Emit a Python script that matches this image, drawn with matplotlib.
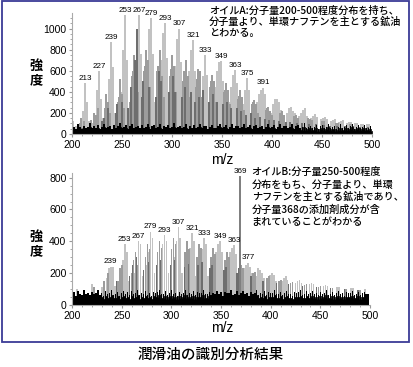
import numpy as np
import matplotlib
matplotlib.use("Agg")
import matplotlib.pyplot as plt
from matplotlib.patches import Rectangle

plt.rcParams['font.family'] = ['Liberation Sans', 'Noto Sans CJK JP']
jp = ['Noto Sans CJK JP', 'DejaVu Sans']

# ---- oil A (top) ----
a_light_mz = [200,201,204,207,210,211,213,214,215,217,221,223,225,227,228,229,231,235,237,239,240,241,243,245,249,251,253,254,255,257,
              261,263,265,267,268,269,271,275,277,279,280,281,283,287,289,291,293,294,295,297,301,303,305,307,308,309,311,315,317,319,
              321,322,323,325,329,331,333,334,335,337,341,343,345,347,349,350,351,353,357,359,361,363,364,365,367,371,373,375,376,377,
              379,383,385,387,389,391,392,393,395,399,401,403,405,407,409,411,415,417,419,421,423,427,429,431,433,435,439,441,443,445,
              449,451,453,455,459,461,463,467,469,471,475,477,479,483,485,489,491,495,497]
a_light_h = [330,120,80,90,150,220,480,160,300,120,100,180,420,600,200,330,150,200,520,870,300,640,200,150,400,800,1130,380,700,250,
             300,600,980,1130,420,760,300,550,1000,1100,400,760,300,400,700,960,1050,380,720,300,450,650,900,1000,350,680,250,400,600,800,
             890,300,600,250,350,550,750,280,560,220,330,450,600,680,690,250,500,200,300,450,560,610,230,480,200,280,420,530,200,420,
             180,230,300,380,420,440,180,380,160,200,280,330,330,300,230,160,200,250,260,220,200,170,200,230,250,170,150,170,190,160,
             140,150,160,140,120,130,140,110,120,130,100,110,110,100,100,90,95,90,90]
a_mid_mz = [208,209,212,219,222,224,226,233,234,236,238,246,247,248,250,252,258,260,261,262,264,266,272,273,274,276,278,285,286,288,
            290,292,298,299,300,302,304,311,312,314,316,318,324,325,326,328,330,338,339,340,342,344,352,353,354,356,358,366,367,368,
            370,372,380,381,382,384,386,394,395,396,398,400,408,410,412,422,424,426,436,438,440,450,452,464,466,478,480,492]
a_mid_h = [100,150,120,130,200,180,250,250,380,300,200,300,350,520,380,250,300,550,600,750,700,400,600,650,800,700,450,600,650,800,
           550,350,550,620,750,650,400,500,600,700,550,350,450,520,620,600,350,450,500,560,500,300,400,420,480,420,280,330,360,420,
           350,230,280,300,320,280,200,230,250,260,220,180,200,220,180,170,180,150,150,140,130,120,120,100,100,90,90,80]
a_dark_mz = [210,218,230,232,236,244,245,250,256,259,263,265,270,271,277,284,287,289,297,301,303,310,313,319,323,327,331,337,341,345,
             351,355,359,365,369,374,379,383,388,393,397,402,407,414,418,425,430,437,444,452,458,465,473,481,488,496]
a_dark_h = [60,80,120,150,250,200,280,300,250,450,700,1000,350,500,450,350,600,500,400,550,400,350,450,400,300,350,420,300,380,300,
            280,300,250,250,220,180,200,150,160,140,130,130,120,110,110,100,100,90,90,85,80,80,75,75,70,70]
a_noise = [55,70,48,90,62,45,80,58,66,100,52,74,60,85,47,68,95,57,63,78,50,88,61,72,105,54,66,83,49,71,
           92,59,64,77,53,86,60,69,98,51,73,82,56,65,90,48,75,62,87,58,70,101,52,67,80,55,63,93,49,76,
           60,84,57,68,96,53,72,79,50,66,89,61,58,74,99,54,69,81,47,64,91,56,71,78,52,67,94,59,62,85,
           50,73,88,55,65,77,48,70,97,57,63,82,51,68,90,60,74,79,54,66,92,49,71,86,58,64,100,53,69,80,
           56,62,89,50,75,83,57,67,95,52,70,78,48,65,91,59,63,84,55,72,98,51,66,81,57,69,87,53,61,76,50]
a_labels = [213,227,239,253,267,279,293,307,321,333,349,363,375,391]

# ---- oil B (bottom) ----
b_light_mz = [205,220,226,230,235,237,239,241,243,249,251,253,255,257,263,265,267,269,271,275,277,279,281,283,289,291,293,295,297,303,
              305,307,309,311,317,319,321,323,325,329,331,333,335,337,343,345,347,349,351,353,357,359,361,363,365,367,373,375,377,379,
              381,385,387,389,391,393,397,399,401,403,405,411,413,415,417,425,427,429,431,439,441,443,453,455,457,467,469,481,483,495]
b_light_h = [100,130,90,110,170,230,240,240,120,180,280,380,330,150,200,300,400,380,180,250,330,460,420,200,280,380,440,400,200,300,
             400,490,420,200,300,360,450,400,180,280,350,420,380,180,280,330,380,400,330,170,280,330,360,375,320,160,230,250,265,240,
             200,180,230,220,200,170,160,190,200,190,150,150,170,180,160,140,150,160,140,130,140,130,120,125,120,110,115,105,105,100]
b_mid_mz = [222,232,236,246,248,250,260,262,264,266,274,276,278,286,288,290,300,302,304,314,316,318,326,328,330,340,342,344,354,356,
            358,370,372,382,384,396,398,408,410,420,422,434,436,448,450,462,476,490]
b_mid_h = [110,150,200,150,230,250,200,280,330,250,300,380,350,330,400,360,350,420,380,330,400,350,300,380,360,300,360,320,280,330,
           300,250,230,200,210,170,180,150,160,140,145,125,130,115,120,105,100,95]
b_dark_mz = [245,258,261,265,272,277,285,289,299,303,313,317,327,331,339,341,353,355,366,368,380,392,406,418,432,446,460,474,488]
b_dark_h = [150,180,250,300,220,270,250,280,250,280,240,260,250,270,230,250,220,240,200,230,180,150,140,130,120,110,105,100,95]
b_spike_mz = [369]
b_spike_h = [810]
b_noise = [68,80,58,88,72,62,95,70,76,60,84,66,78,92,64,74,56,86,69,77,94,63,72,82,59,75,90,67,79,62,
           85,71,74,96,61,78,70,88,65,76,58,83,73,80,93,66,70,86,62,77,91,68,74,57,82,72,78,95,64,75,
           69,87,60,81,74,78,92,66,71,84,63,76,67,90,70,79,59,82,73,77,96,65,70,85,62,74,88,68,78,58,
           83,71,75,92,64,78,69,86,61,80,74,76,94,66,70,82,62,77,89,67,72,58,81,74,79,91,63,70,86,66,
           75,87,69,78,60,82,72,76,93,65,71,83,62,78,90,68,74,59,80,73,77,90,64,70,84,62,74,79,67,72]
b_labels = [239,253,267,279,293,307,321,333,349,363,369,377]

LIGHT = '#c2c2c2'
MID = '#9c9c9c'
DARK = '#6e6e6e'

fig = plt.figure(figsize=(4.14, 3.67), dpi=100)
fig.patches.append(Rectangle((0.006, 0.068), 0.983, 0.929, transform=fig.transFigure,
                             fill=False, edgecolor='#3c3c96', linewidth=1.3))


def draw(ax, lmz, lh, mmz, mh, dmz, dh, noise, labels, ymax, yticks, smz=[], sh=[]):
    ax.bar(lmz, lh, width=1.7, color=LIGHT, linewidth=0)
    ax.bar(mmz, mh, width=1.7, color=MID, linewidth=0)
    ax.bar(dmz, dh, width=1.5, color=DARK, linewidth=0)
    if smz:
        ax.bar(smz, sh, width=1.2, color='#808080', linewidth=0)
    nx = np.arange(len(noise)) * 2 + 200
    ax.fill_between(nx, 0, np.array(noise) * 0.65, color='black', linewidth=0.5, step='mid')
    ax.bar(nx, noise, width=1.3, color='black', linewidth=0)
    # peak labels
    peaks = {}
    for m, h in zip(list(lmz) + list(mmz) + list(dmz) + list(smz), list(lh) + list(mh) + list(dh) + list(sh)):
        peaks[m] = max(h, peaks.get(m, 0))
    for m in labels:
        ax.text(m, peaks.get(m, 0) + ymax * 0.01, str(m), fontsize=5.8, ha='center', va='bottom')
    ax.set_xlim(200, 500)
    ax.set_ylim(0, ymax)
    ax.set_xticks([200, 250, 300, 350, 400, 450, 500])
    ax.set_xticks(np.arange(200, 501, 10), minor=True)
    ax.set_yticks(yticks)
    ax.set_yticks(np.arange(0, ymax, 50), minor=True)
    ax.tick_params(labelsize=7.5, length=2, color='#999999', pad=2)
    ax.tick_params(which='minor', length=1.5, color='#999999')
    for s in ['top', 'right']:
        ax.spines[s].set_visible(False)
    for s in ['left', 'bottom']:
        ax.spines[s].set_color('#aaaaaa')
        ax.spines[s].set_linewidth(0.8)


ax1 = fig.add_axes([0.174, 0.635, 0.725, 0.33])
draw(ax1, a_light_mz, a_light_h, a_mid_mz, a_mid_h, a_dark_mz, a_dark_h, a_noise, a_labels,
     1150, [0, 200, 400, 600, 800, 1000])

ax2 = fig.add_axes([0.174, 0.169, 0.72, 0.36])
draw(ax2, b_light_mz, b_light_h, b_mid_mz, b_mid_h, b_dark_mz, b_dark_h, b_noise, b_labels,
     830, [0, 200, 400, 600, 800], b_spike_mz, b_spike_h)

# axis titles
for y in [0.8, 0.335]:
    fig.text(0.087, y, '強\n度', fontsize=9.5, fontweight='bold', family=jp,
             ha='center', va='center', linespacing=1.0)
fig.text(0.537, 0.565, 'm/z', fontsize=10, ha='center', va='center')
fig.text(0.537, 0.105, 'm/z', fontsize=10, ha='center', va='center')

fig.text(0.505, 0.985, 'オイルA:分子量200-500程度分布を持ち、\n分子量より、単環ナフテンを主とする鉱油\nとわかる。',
         fontsize=7.3, family=jp, ha='left', va='top', linespacing=1.15, fontweight='medium')
fig.text(0.608, 0.545, 'オイルB:分子量250-500程度\n分布をもち、分子量より、単環\nナフテンを主とする鉱油であり、\n分子量368の添加剤成分が含\nまれていることがわかる',
         fontsize=7.3, family=jp, ha='left', va='top', linespacing=1.3, fontweight='medium')

fig.text(0.51, 0.033, '潤滑油の識別分析結果', fontsize=10.5, family=jp, ha='center', va='center',
         fontweight='medium')

fig.savefig('out.png', dpi=100)
